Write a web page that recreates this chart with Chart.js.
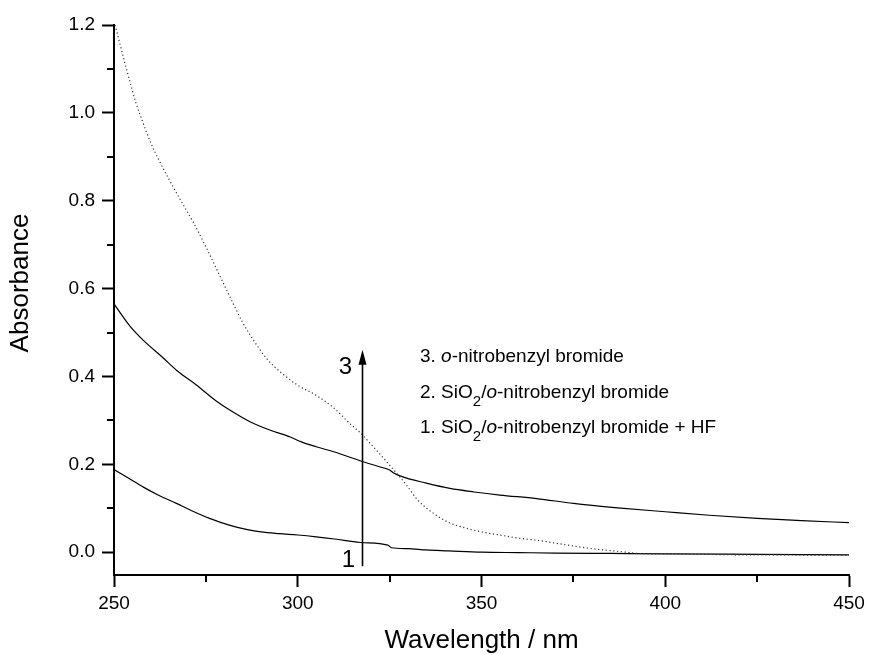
<!DOCTYPE html>
<html><head><meta charset="utf-8">
<script src="https://cdn.jsdelivr.net/npm/chart.js@4/dist/chart.umd.min.js"></script>
<style>html,body{margin:0;padding:0;background:#fff;overflow:hidden}#wrap{width:871px;height:655px;position:relative}</style>
</head><body><div id="wrap"><canvas id="c"></canvas></div>
<script>
const FONT = '"Liberation Sans", Arial, Helvetica, sans-serif';

// axis ticks
const xTicks = [250, 300, 350, 400, 450];
const xTickLabels = ['250', '300', '350', '400', '450'];
const xMinorTicks = [275, 325, 375, 425];
const yTicks = [0, 0.2, 0.4, 0.6, 0.8, 1.0, 1.2];
const yTickLabels = ['0.0', '0.2', '0.4', '0.6', '0.8', '1.0', '1.2'];
const yMinorTicks = [0.1, 0.3, 0.5, 0.7, 0.9, 1.1];
const xTitle = 'Wavelength / nm';
const yTitle = 'Absorbance';

// series 3: o-nitrobenzyl bromide (dotted)
const wl3  = [250.3, 253, 254.5, 256, 258, 260, 262.5, 265, 268, 271.5, 275, 278, 281.5, 285, 288, 291.5, 296, 300, 305, 310, 314, 317, 320, 322.5, 325, 327, 330, 332.5, 337, 341, 346, 350, 355, 360, 366, 372, 380, 387, 393, 400, 410, 420, 430, 440, 450];
const abs3 = [1.20, 1.112, 1.066, 1.022, 0.975, 0.932, 0.888, 0.848, 0.803, 0.752, 0.695, 0.643, 0.582, 0.523, 0.482, 0.441, 0.405, 0.38, 0.357, 0.327, 0.294, 0.272, 0.245, 0.222, 0.198, 0.179, 0.148, 0.12, 0.088, 0.068, 0.054, 0.046, 0.039, 0.032, 0.026, 0.018, 0.008, 0.002, -0.003, -0.004, -0.005, -0.006, -0.006, -0.007, -0.007];

// series 2: SiO2/o-nitrobenzyl bromide
const wl2  = [250, 254.4, 258, 263.4, 267, 272.5, 278, 281.6, 287, 292.4, 298, 301, 305, 310, 317, 322, 325, 326, 328, 335, 341.4, 348, 355, 365, 375, 387, 400, 412, 425, 437, 450];
const abs2 = [0.565, 0.514, 0.482, 0.442, 0.414, 0.38, 0.343, 0.323, 0.297, 0.278, 0.262, 0.251, 0.24, 0.228, 0.208, 0.195, 0.187, 0.181, 0.173, 0.157, 0.145, 0.137, 0.130, 0.122, 0.111, 0.101, 0.092, 0.084, 0.077, 0.072, 0.067];

// series 1: SiO2/o-nitrobenzyl bromide + HF
const wl1  = [250, 254, 258, 262, 267, 271, 276, 281.6, 286, 290, 295, 300, 305, 310, 317, 324.5, 325.5, 330, 335, 341, 350, 360, 370, 385, 400, 425, 450];
const abs1 = [0.188, 0.168, 0.148, 0.13, 0.111, 0.095, 0.077, 0.061, 0.052, 0.046, 0.042, 0.039, 0.035, 0.030, 0.022, 0.016, 0.010, 0.008, 0.005, 0.003, 0.000, -0.001, -0.002, -0.003, -0.004, -0.005, -0.006];

const seriesLabels = ['3. o-nitrobenzyl bromide', '2. SiO2/o-nitrobenzyl bromide', '1. SiO2/o-nitrobenzyl bromide + HF'];

// legend text segments: [text, style]  ('' normal, 'i' italic, 's' subscript)
const legendLines = [
  [['3. ', ''], ['o', 'i'], ['-nitrobenzyl bromide', '']],
  [['2. SiO', ''], ['2', 's'], ['/', ''], ['o', 'i'], ['-nitrobenzyl bromide', '']],
  [['1. SiO', ''], ['2', 's'], ['/', ''], ['o', 'i'], ['-nitrobenzyl bromide + HF', '']]
];
const arrowLabels = ['3', '1'];

function pts(xs, ys) { return xs.map((x, i) => ({ x: x, y: ys[i] })); }

const decor = {
  id: 'decor',
  afterDraw(chart) {
    const ctx = chart.ctx, xs = chart.scales.x, ys = chart.scales.y, ca = chart.chartArea;
    ctx.save();
    ctx.strokeStyle = '#000';
    ctx.fillStyle = '#000';
    ctx.lineWidth = 2;
    // minor ticks
    xMinorTicks.forEach(v => {
      const px = Math.round(xs.getPixelForValue(v));
      ctx.beginPath(); ctx.moveTo(px, ca.bottom); ctx.lineTo(px, ca.bottom + 7); ctx.stroke();
    });
    yMinorTicks.forEach(v => {
      const py = Math.round(ys.getPixelForValue(v));
      ctx.beginPath(); ctx.moveTo(ca.left, py); ctx.lineTo(ca.left - 7, py); ctx.stroke();
    });
    // arrow
    const ax = Math.round(xs.getPixelForValue(317.5)) + 0.5;
    const yb = ys.getPixelForValue(-0.032), yt = ys.getPixelForValue(0.461);
    ctx.lineWidth = 1.6;
    ctx.beginPath(); ctx.moveTo(ax, yb); ctx.lineTo(ax, yt + 10); ctx.stroke();
    ctx.beginPath(); ctx.moveTo(ax, yt); ctx.lineTo(ax - 4, yt + 15); ctx.lineTo(ax + 4, yt + 15); ctx.closePath(); ctx.fill();
    ctx.font = '24px ' + FONT;
    ctx.textAlign = 'center'; ctx.textBaseline = 'alphabetic';
    ctx.fillText(arrowLabels[0], ax - 17, yt + 24);
    ctx.fillText(arrowLabels[1], ax - 14, yb + 1);
    // legend text
    const lx = 420, baselines = [362, 398, 433];
    ctx.textAlign = 'left';
    legendLines.forEach((segs, li) => {
      let x = lx;
      segs.forEach(([t, s]) => {
        let y = baselines[li];
        if (s === 'i') ctx.font = 'italic 19px ' + FONT;
        else if (s === 's') { ctx.font = '15px ' + FONT; y += 8; }
        else ctx.font = '19px ' + FONT;
        ctx.fillText(t, x, y);
        x += ctx.measureText(t).width;
      });
    });
    // y axis title
    ctx.translate(21, (ca.top + ca.bottom) / 2 - 17);
    ctx.rotate(-Math.PI / 2);
    ctx.font = '26px ' + FONT;
    ctx.textAlign = 'center'; ctx.textBaseline = 'middle';
    ctx.fillText(yTitle, 0, 0);
    ctx.restore();
  }
};

new Chart(document.getElementById('c'), {
  type: 'line',
  data: {
    datasets: [
      { label: seriesLabels[0], data: pts(wl3, abs3), borderColor: '#333', borderWidth: 1.2, borderDash: [1.2, 2.6], pointRadius: 0, cubicInterpolationMode: 'monotone', fill: false },
      { label: seriesLabels[1], data: pts(wl2, abs2), borderColor: '#000', borderWidth: 1.2, pointRadius: 0, cubicInterpolationMode: 'monotone', fill: false },
      { label: seriesLabels[2], data: pts(wl1, abs1), borderColor: '#000', borderWidth: 1.2, pointRadius: 0, cubicInterpolationMode: 'monotone', fill: false }
    ]
  },
  options: {
    responsive: true,
    maintainAspectRatio: false,
    animation: false,
    layout: { padding: { top: 25, right: 22, left: 0, bottom: 0 } },
    plugins: { legend: { display: false }, tooltip: { enabled: false } },
    scales: {
      x: {
        type: 'linear', position: 'bottom', min: 250, max: 450,
        afterBuildTicks: s => { s.ticks = xTicks.map(v => ({ value: v })); },
        afterFit: s => { s.height = 80; },
        ticks: { color: '#000', font: { family: FONT, size: 19 }, padding: 5, maxRotation: 0, callback: (v, i) => xTickLabels[i] },
        grid: { display: true, drawOnChartArea: false, drawTicks: true, tickLength: 12, tickWidth: 2, tickColor: '#000' },
        border: { display: true, color: '#000', width: 2 },
        title: { display: true, text: xTitle, color: '#000', font: { family: FONT, size: 26, lineHeight: 1.08 }, padding: { top: 0, bottom: 0 } }
      },
      y: {
        type: 'linear', position: 'left', min: -0.052, max: 1.2,
        afterBuildTicks: s => { s.ticks = yTicks.map(v => ({ value: v })); },
        afterFit: s => { s.width = 114; },
        ticks: { color: '#000', font: { family: FONT, size: 19 }, padding: 7, callback: (v, i) => yTickLabels[i] },
        grid: { display: true, drawOnChartArea: false, drawTicks: true, tickLength: 12, tickWidth: 2, tickColor: '#000' },
        border: { display: true, color: '#000', width: 2 },
        title: { display: false }
      }
    }
  },
  plugins: [decor]
});
</script>
</body></html>
